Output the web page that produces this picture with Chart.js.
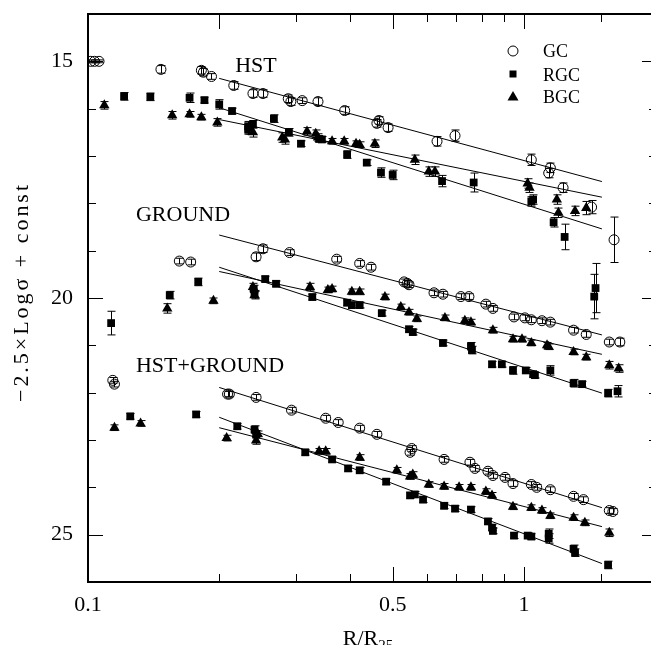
<!DOCTYPE html>
<html><head><meta charset="utf-8">
<script src="https://cdn.jsdelivr.net/npm/chart.js@4.4.0/dist/chart.umd.min.js"></script>
<style>html,body{margin:0;padding:0;background:#fff;overflow:hidden;width:651px;height:645px}canvas{display:block}</style>
</head><body>
<canvas id="c" width="663" height="645"></canvas>
<script>
const FONT = "'Liberation Serif', 'Times New Roman', serif";

// ---------- HST ----------
const hstGcR = [0.1015,0.1035,0.106,0.147,0.182,0.184,0.192,0.216,0.239,0.252,0.288,0.292,0.310,0.337,0.388,0.460,0.465,0.488,0.632,0.695,1.04,1.15,1.14,1.23,1.43,1.61];
const hstGcY = [15.00,15.00,15.00,15.17,15.19,15.23,15.32,15.51,15.68,15.68,15.79,15.85,15.83,15.85,16.04,16.31,16.25,16.40,16.69,16.57,17.08,17.25,17.36,17.67,18.08,18.77];
const hstGcE = [0.03,0.03,0.03,0.08,0.08,0.08,0.06,0.08,0.08,0.08,0.08,0.08,0.06,0.08,0.08,0.08,0.08,0.08,0.10,0.12,0.12,0.10,0.10,0.10,0.14,0.48];

const hstRgcR = [0.121,0.139,0.171,0.185,0.200,0.214,0.233,0.239,0.233,0.267,0.289,0.308,0.339,0.344,0.393,0.436,0.470,0.500,0.649,0.767,1.04,1.05,1.17,1.24,1.46,1.45];
const hstRgcY = [15.74,15.75,15.77,15.82,15.91,16.05,16.37,16.33,16.44,16.21,16.50,16.74,16.64,16.65,16.97,17.14,17.35,17.40,17.53,17.56,17.96,17.92,18.40,18.71,19.79,19.97];
const hstRgcE = [0.08,0.08,0.10,0.06,0.10,0.06,0.10,0.08,0.10,0.08,0.08,0.06,0.06,0.06,0.08,0.06,0.10,0.10,0.12,0.20,0.10,0.10,0.10,0.27,0.52,0.47];

const hstBgcR = [0.109,0.156,0.171,0.182,0.198,0.235,0.239,0.279,0.283,0.318,0.333,0.337,0.363,0.387,0.412,0.420,0.455,0.562,0.605,0.625,1.02,1.03,1.19,1.20,1.31,1.39];
const hstBgcY = [15.93,16.14,16.12,16.18,16.29,16.46,16.50,16.61,16.65,16.48,16.53,16.61,16.69,16.69,16.74,16.76,16.74,17.08,17.33,17.33,17.58,17.67,17.92,18.20,18.16,18.10];
const hstBgcE = [0.08,0.08,0.06,0.06,0.08,0.08,0.10,0.10,0.10,0.08,0.08,0.08,0.06,0.06,0.06,0.06,0.08,0.10,0.10,0.10,0.10,0.10,0.10,0.10,0.10,0.14];

// ---------- GROUND ----------
const grdGcR = [0.162,0.172,0.243,0.252,0.290,0.372,0.420,0.446,0.531,0.540,0.545,0.622,0.652,0.717,0.748,0.818,0.849,0.949,1.005,1.04,1.10,1.15,1.30,1.39,1.57,1.66];
const grdGcY = [19.22,19.24,19.13,18.96,19.04,19.18,19.27,19.35,19.66,19.69,19.72,19.89,19.92,19.97,19.97,20.13,20.22,20.40,20.42,20.46,20.48,20.51,20.68,20.77,20.93,20.93];
const grdGcE = [0.06,0.06,0.08,0.08,0.06,0.06,0.06,0.06,0.06,0.06,0.06,0.06,0.06,0.06,0.06,0.06,0.06,0.06,0.06,0.06,0.06,0.06,0.06,0.06,0.06,0.08];

const grdRgcR = [0.113,0.154,0.179,0.240,0.241,0.255,0.270,0.327,0.393,0.403,0.420,0.472,0.545,0.556,0.652,0.756,0.760,0.845,0.890,0.944,1.01,1.05,1.06,1.15,1.30,1.36,1.56,1.64];
const grdRgcY = [20.53,19.94,19.66,19.81,19.92,19.60,19.70,19.98,20.10,20.15,20.15,20.32,20.66,20.72,20.95,21.02,21.10,21.40,21.40,21.53,21.53,21.61,21.63,21.53,21.80,21.82,22.01,21.97];
const grdRgcE = [0.25,0.08,0.08,0.08,0.08,0.06,0.06,0.06,0.06,0.06,0.06,0.06,0.06,0.06,0.06,0.08,0.08,0.06,0.06,0.08,0.06,0.06,0.06,0.10,0.08,0.06,0.08,0.12];

const grdBgcR = [0.152,0.194,0.239,0.241,0.323,0.355,0.363,0.403,0.420,0.480,0.522,0.545,0.568,0.659,0.732,0.756,0.849,0.944,0.990,1.04,1.13,1.14,1.30,1.39,1.57,1.65];
const grdBgcY = [20.22,20.06,19.77,19.94,19.77,19.83,19.81,19.87,19.87,19.98,20.19,20.30,20.44,20.42,20.48,20.51,20.68,20.87,20.87,20.95,21.00,21.03,21.14,21.25,21.42,21.49];
const grdBgcE = [0.10,0.06,0.08,0.08,0.08,0.06,0.06,0.06,0.06,0.06,0.06,0.06,0.06,0.06,0.06,0.06,0.06,0.06,0.06,0.06,0.06,0.06,0.06,0.06,0.08,0.08];

// ---------- HST+GROUND ----------
const allGcR = [0.114,0.115,0.209,0.211,0.243,0.293,0.351,0.375,0.420,0.460,0.553,0.548,0.656,0.752,0.772,0.827,0.849,0.905,0.944,1.04,1.07,1.15,1.30,1.37,1.57,1.60];
const allGcY = [21.74,21.82,22.03,22.03,22.10,22.37,22.54,22.63,22.75,22.88,23.18,23.26,23.41,23.47,23.60,23.66,23.75,23.79,23.92,23.94,24.00,24.05,24.19,24.26,24.49,24.51];
const allGcE = [0.06,0.06,0.06,0.06,0.06,0.06,0.06,0.06,0.06,0.06,0.06,0.06,0.06,0.06,0.06,0.06,0.06,0.06,0.06,0.06,0.06,0.06,0.06,0.06,0.06,0.06];

const allRgcR = [0.125,0.177,0.220,0.241,0.243,0.315,0.363,0.395,0.420,0.483,0.548,0.562,0.587,0.656,0.695,0.756,0.827,0.845,0.849,0.949,1.02,1.04,1.14,1.14,1.30,1.31,1.56];
const allRgcY = [22.50,22.46,22.71,22.78,22.88,23.26,23.41,23.60,23.64,23.88,24.17,24.15,24.26,24.39,24.45,24.47,24.72,24.85,24.92,25.02,25.02,25.04,24.98,25.08,25.30,25.38,25.64];
const allRgcE = [0.06,0.06,0.06,0.08,0.08,0.06,0.06,0.06,0.06,0.06,0.06,0.06,0.06,0.06,0.06,0.06,0.06,0.06,0.06,0.06,0.06,0.06,0.10,0.10,0.08,0.08,0.08];

const allBgcR = [0.115,0.132,0.208,0.243,0.245,0.339,0.351,0.420,0.511,0.548,0.556,0.605,0.656,0.710,0.756,0.818,0.845,0.944,1.04,1.10,1.15,1.30,1.38,1.57];
const allBgcY = [22.74,22.65,22.96,23.01,22.87,23.24,23.24,23.37,23.64,23.77,23.73,23.94,23.98,24.00,24.00,24.09,24.17,24.41,24.43,24.49,24.60,24.64,24.75,24.96];
const allBgcE = [0.06,0.06,0.06,0.08,0.06,0.06,0.06,0.06,0.06,0.06,0.06,0.06,0.06,0.06,0.06,0.06,0.06,0.06,0.06,0.06,0.06,0.06,0.06,0.08];

// ---------- fitted lines (endpoints in R/R25 and magnitude) ----------
const fitR = [0.2, 1.51];
const hstFitGc = [15.36, 17.54], hstFitRgc = [15.98, 18.54], hstFitBgc = [16.23, 17.87];
const grdFitGc = [18.67, 20.78], grdFitRgc = [19.35, 22.01], grdFitBgc = [19.44, 21.19];
const allFitGc = [21.89, 24.43], allFitRgc = [22.52, 25.61], allFitBgc = [22.74, 24.83];

// ---------- labels ----------
const xTickLabels = [0.1, 0.5, 1];
const yTickLabels = [15, 20, 25];
const seriesNames = ['GC', 'RGC', 'BGC'];
const sectionLabels = ['HST', 'GROUND', 'HST+GROUND'];
const xTitle = ['R/R', '25'];
const yTitle = '\u22122.5\u00d7Log\u03c3 + const';

function pts(xs, ys) { return xs.map((x, i) => ({ x: x, y: ys[i] })); }

const gcData = [].concat(pts(hstGcR, hstGcY), pts(grdGcR, grdGcY), pts(allGcR, allGcY));
const gcErr = [].concat(hstGcE, grdGcE, allGcE);
const rgcData = [].concat(pts(hstRgcR, hstRgcY), pts(grdRgcR, grdRgcY), pts(allRgcR, allRgcY));
const rgcErr = [].concat(hstRgcE, grdRgcE, allRgcE);
const bgcData = [].concat(pts(hstBgcR, hstBgcY), pts(grdBgcR, grdBgcY), pts(allBgcR, allBgcY));
const bgcErr = [].concat(hstBgcE, grdBgcE, allBgcE);

function fitDs(ys) {
  return { data: pts(fitR, ys), showLine: true, pointRadius: 0, borderColor: '#000', borderWidth: 1, fill: false };
}

const deco = {
  id: 'deco',
  beforeDatasetsDraw(chart) {
    const { ctx, chartArea: a, scales: { x, y } } = chart;
    ctx.save();
    ctx.beginPath(); ctx.rect(a.left, a.top, a.right - a.left, a.bottom - a.top); ctx.clip();
    ctx.strokeStyle = '#000'; ctx.lineWidth = 1;
    chart.data.datasets.forEach(ds => {
      if (!ds.errors) return;
      ds.data.forEach((p, i) => {
        const e = ds.errors[i];
        const px = Math.round(x.getPixelForValue(p.x)) + 0.5;
        const y1 = y.getPixelForValue(p.y - e), y2 = y.getPixelForValue(p.y + e);
        ctx.beginPath();
        ctx.moveTo(px, y1); ctx.lineTo(px, y2);
        ctx.moveTo(px - 4, y1); ctx.lineTo(px + 4, y1);
        ctx.moveTo(px - 4, y2); ctx.lineTo(px + 4, y2);
        ctx.stroke();
      });
    });
    ctx.restore();
  },
  afterDraw(chart) {
    const { ctx, chartArea: a, scales: { x, y } } = chart;
    ctx.save();
    ctx.strokeStyle = '#000';
    ctx.lineWidth = 1;
    ctx.beginPath();
    x.ticks.forEach(t => {
      const v = t.value;
      const px = Math.round(x.getPixelForValue(v)) + 0.5;
      if (px < a.left + 1 || px > a.right - 1) return;
      const isMaj = xTickLabels.some(m => Math.abs(m - v) / m < 1e-6);
      const topMaj = isMaj || Math.abs(v - 0.2) < 1e-6;
      ctx.moveTo(px, a.bottom); ctx.lineTo(px, a.bottom - (isMaj ? 15 : 8));
      ctx.moveTo(px, a.top); ctx.lineTo(px, a.top + (topMaj ? 15 : 8));
    });
    y.ticks.forEach(t => {
      const v = t.value;
      const py = Math.round(y.getPixelForValue(v)) + 0.5;
      if (py < a.top + 1 || py > a.bottom - 1) return;
      const isMaj = yTickLabels.includes(v);
      ctx.moveTo(a.left, py); ctx.lineTo(a.left + (isMaj ? 15 : 8), py);
      ctx.moveTo(a.right, py); ctx.lineTo(a.right - (isMaj ? 15 : 8), py);
    });
    ctx.stroke();
    ctx.lineWidth = 2;
    ctx.strokeRect(a.left, a.top, a.right - a.left, a.bottom - a.top);

    ctx.fillStyle = '#000';
    ctx.font = '22px ' + FONT;
    ctx.textAlign = 'center'; ctx.textBaseline = 'alphabetic';
    ctx.fillText(sectionLabels[0], 256, 72);
    ctx.fillText(sectionLabels[1], 183, 221);
    ctx.fillText(sectionLabels[2], 210, 372);

    ctx.font = '18px ' + FONT;
    ctx.textAlign = 'left';
    const lx = 513, ly = [51, 74, 97], lb = [57, 81, 103];
    ctx.lineWidth = 1;
    ctx.beginPath(); ctx.arc(lx, ly[0], 5, 0, Math.PI * 2); ctx.stroke();
    ctx.fillRect(lx - 3.5, ly[1] - 3.5, 7, 7);
    ctx.beginPath(); ctx.moveTo(lx, ly[2] - 6); ctx.lineTo(lx + 5.5, ly[2] + 3.5); ctx.lineTo(lx - 5.5, ly[2] + 3.5); ctx.closePath(); ctx.fill();
    seriesNames.forEach((n, i) => ctx.fillText(n, 543, lb[i]));

    ctx.font = '22px ' + FONT;
    const w1 = ctx.measureText(xTitle[0]).width;
    ctx.font = '15px ' + FONT;
    const w2 = ctx.measureText(xTitle[1]).width;
    const sx = 368 - (w1 + w2) / 2;
    ctx.font = '22px ' + FONT;
    ctx.fillText(xTitle[0], sx, 644.5);
    ctx.font = '15px ' + FONT;
    ctx.fillText(xTitle[1], sx + w1, 650);

    ctx.save();
    ctx.translate(22, 292);
    ctx.rotate(-Math.PI / 2);
    ctx.font = '22px ' + FONT;
    ctx.textAlign = 'left'; ctx.textBaseline = 'middle';
    const wt = ctx.measureText(yTitle).width;
    const ls = Math.max(0, (217 - wt) / (yTitle.length - 1));
    if ('letterSpacing' in ctx) ctx.letterSpacing = ls.toFixed(2) + 'px';
    const wt2 = ctx.measureText(yTitle).width;
    ctx.fillText(yTitle, -wt2 / 2, 0);
    ctx.restore();

    ctx.restore();
  }
};

new Chart(document.getElementById('c'), {
  type: 'scatter',
  data: {
    datasets: [
      { label: seriesNames[0], data: gcData, errors: gcErr, pointStyle: 'circle', pointRadius: 5, borderColor: '#000', backgroundColor: 'rgba(0,0,0,0)', borderWidth: 1 },
      { label: seriesNames[1], data: rgcData, errors: rgcErr, pointStyle: 'rect', pointRadius: 5.5, borderColor: '#000', backgroundColor: '#000', borderWidth: 0 },
      { label: seriesNames[2], data: bgcData, errors: bgcErr, pointStyle: 'triangle', pointRadius: 6, borderColor: '#000', backgroundColor: '#000', borderWidth: 0 },
      fitDs(hstFitGc), fitDs(hstFitRgc), fitDs(hstFitBgc),
      fitDs(grdFitGc), fitDs(grdFitRgc), fitDs(grdFitBgc),
      fitDs(allFitGc), fitDs(allFitRgc), fitDs(allFitBgc)
    ]
  },
  options: {
    responsive: false,
    animation: false,
    layout: { padding: { top: 14, right: 0, left: 0, bottom: 0 } },
    plugins: { legend: { display: false }, tooltip: { enabled: false } },
    scales: {
      x: {
        type: 'logarithmic', min: 0.1, max: 2.02,
        grid: { display: false, drawTicks: false }, border: { display: false },
        afterFit(s) { s.height = 63; s.paddingLeft = 0; s.paddingRight = 0; s.paddingTop = 0; s.paddingBottom = 0; },
        ticks: {
          autoSkip: false, maxRotation: 0, minRotation: 0, padding: 10, color: '#000',
          font: { family: FONT, size: 22 },
          callback: (v) => { const m = xTickLabels.find(t => Math.abs(t - v) / t < 1e-6); return m === undefined ? '' : String(m); }
        }
      },
      y: {
        type: 'linear', min: 14, max: 26, reverse: true,
        grid: { display: false, drawTicks: false }, border: { display: false },
        afterFit(s) { s.width = 88; s.paddingLeft = 0; s.paddingRight = 0; s.paddingTop = 0; s.paddingBottom = 0; },
        ticks: {
          stepSize: 1, padding: 15, color: '#000', autoSkip: false,
          font: { family: FONT, size: 22 },
          callback: (v) => yTickLabels.includes(v) ? String(v) : ''
        }
      }
    }
  },
  plugins: [deco]
});
</script></body></html>
